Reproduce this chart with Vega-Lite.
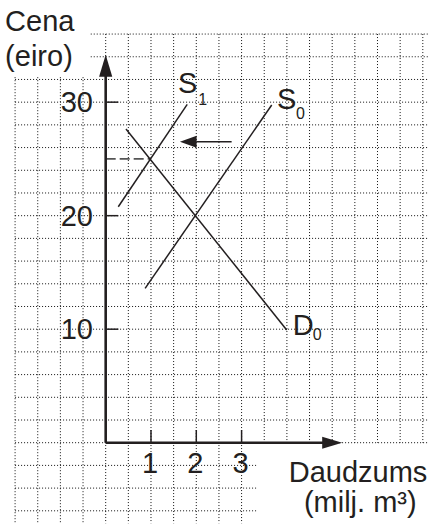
{
  "$schema": "https://vega.github.io/schema/vega-lite/v6.json",
  "autosize": {"type": "fit", "contains": "padding"},
  "width": 430,
  "height": 525,
  "padding": 0,
  "background": "white",
  "config": {"view": {"stroke": null}, "text": {"font": "Liberation Sans", "color": "#231f20"}},
  "datasets": {
    "hgrid": [
      {"y": 36, "x0": -0.33, "x1": 7.12}, {"y": 34, "x0": -0.33, "x1": 7.12},
      {"y": 32, "x0": -2, "x1": 7.12}, {"y": 30, "x0": -2, "x1": 7.12},
      {"y": 28, "x0": -2, "x1": 7.12}, {"y": 26, "x0": -2, "x1": 7.12},
      {"y": 24, "x0": -2, "x1": 7.12}, {"y": 22, "x0": -2, "x1": 7.12},
      {"y": 20, "x0": -2, "x1": 7.12}, {"y": 18, "x0": -2, "x1": 7.12},
      {"y": 16, "x0": -2, "x1": 7.12}, {"y": 14, "x0": -2, "x1": 7.12},
      {"y": 12, "x0": -2, "x1": 7.12}, {"y": 10, "x0": -2, "x1": 7.12},
      {"y": 8, "x0": -2, "x1": 7.12}, {"y": 6, "x0": -2, "x1": 7.12},
      {"y": 4, "x0": -2, "x1": 7.12}, {"y": 2, "x0": -2, "x1": 7.12},
      {"y": 0, "x0": -2, "x1": 7.12},
      {"y": -2, "x0": -2, "x1": 3.36}, {"y": -4, "x0": -2, "x1": 3.36},
      {"y": -6, "x0": -2, "x1": 3.36}
    ],
    "vgrid": [
      {"x": -2, "y0": 32.2, "y1": -7.1}, {"x": -1.5, "y0": 32.2, "y1": -7.1},
      {"x": -1, "y0": 32.2, "y1": -7.1}, {"x": -0.5, "y0": 32.2, "y1": -7.1},
      {"x": 0, "y0": 36, "y1": -7.1}, {"x": 0.5, "y0": 36, "y1": -7.1},
      {"x": 1, "y0": 36, "y1": -7.1}, {"x": 1.5, "y0": 36, "y1": -7.1},
      {"x": 2, "y0": 36, "y1": -7.1}, {"x": 2.5, "y0": 36, "y1": -7.1},
      {"x": 3, "y0": 36, "y1": -7.1},
      {"x": 3.5, "y0": 36, "y1": 0}, {"x": 4, "y0": 36, "y1": 0},
      {"x": 4.5, "y0": 36, "y1": 0}, {"x": 5, "y0": 36, "y1": 0},
      {"x": 5.5, "y0": 36, "y1": 0}, {"x": 6, "y0": 36, "y1": 0},
      {"x": 6.5, "y0": 36, "y1": 0}, {"x": 7, "y0": 36, "y1": 0}
    ],
    "curves": [
      {"curve": "S1", "q": 0.278, "p": 20.79}, {"curve": "S1", "q": 1.80, "p": 29.81},
      {"curve": "S0", "q": 0.87, "p": 13.6}, {"curve": "S0", "q": 3.665, "p": 29.75},
      {"curve": "D0", "q": 0.448, "p": 27.64}, {"curve": "D0", "q": 3.996, "p": 9.93}
    ],
    "axes": [
      {"x": 0, "y": 0, "x2": 0, "y2": 33.2},
      {"x": 0, "y": 0, "x2": 5.0, "y2": 0}
    ],
    "yticks": [{"v": 10, "label": "10"}, {"v": 20, "label": "20"}, {"v": 30, "label": "30"}],
    "xticks": [{"v": 1, "label": "1"}, {"v": 2, "label": "2"}, {"v": 3, "label": "3"}],
    "mainLabels": [
      {"t": "S", "x": 1.594, "y": 30.78},
      {"t": "S", "x": 3.78, "y": 29.37},
      {"t": "D", "x": 4.13, "y": 9.49}
    ],
    "subLabels": [
      {"t": "1", "x": 2.046, "y": 29.77},
      {"t": "0", "x": 4.2, "y": 28.49},
      {"t": "0", "x": 4.57, "y": 9.05}
    ],
    "ytitle": [
      {"t": "Cena", "x": -2.22, "y": 36.27},
      {"t": "(eiro)", "x": -2.22, "y": 33.19}
    ],
    "xtitle": [
      {"t": "Daudzums", "x": 5.57, "y": -3.44},
      {"t": "(milj. m³)", "x": 5.62, "y": -6.13}
    ]
  },
  "encoding": {
    "x": {"type": "quantitative", "scale": {"domain": [-2.333, 7.159], "nice": false, "zero": false}, "axis": null},
    "y": {"type": "quantitative", "scale": {"domain": [-7.25, 39.0], "nice": false, "zero": false}, "axis": null}
  },
  "layer": [
    {
      "data": {"name": "hgrid"},
      "mark": {"type": "rule", "color": "#111111", "strokeWidth": 1, "strokeDash": [1, 2]},
      "encoding": {"y": {"field": "y", "type": "quantitative"}, "x": {"field": "x0", "type": "quantitative"}, "x2": {"field": "x1"}}
    },
    {
      "data": {"name": "vgrid"},
      "mark": {"type": "rule", "color": "#111111", "strokeWidth": 1, "strokeDash": [1, 2]},
      "encoding": {"x": {"field": "x", "type": "quantitative"}, "y": {"field": "y0", "type": "quantitative"}, "y2": {"field": "y1"}}
    },
    {
      "data": {"values": [{"x0": 0, "x1": 1, "p": 25}]},
      "mark": {"type": "rule", "color": "#555555", "strokeWidth": 1.6, "strokeDash": [10, 4]},
      "encoding": {"y": {"field": "p", "type": "quantitative"}, "x": {"field": "x0", "type": "quantitative"}, "x2": {"field": "x1"}}
    },
    {
      "data": {"name": "curves"},
      "mark": {"type": "line", "color": "#231f20", "strokeWidth": 1.5},
      "encoding": {"x": {"field": "q", "type": "quantitative"}, "y": {"field": "p", "type": "quantitative"}, "detail": {"field": "curve"}}
    },
    {
      "data": {"name": "axes"},
      "mark": {"type": "rule", "color": "#231f20", "strokeWidth": 2.6},
      "encoding": {"x": {"field": "x", "type": "quantitative"}, "y": {"field": "y", "type": "quantitative"}, "x2": {"field": "x2"}, "y2": {"field": "y2"}}
    },
    {
      "data": {"name": "yticks"},
      "mark": {"type": "rule", "color": "#231f20", "strokeWidth": 1.5},
      "encoding": {"y": {"field": "v", "type": "quantitative"}, "x": {"datum": 0}, "x2": {"datum": 0.28}}
    },
    {
      "data": {"name": "xticks"},
      "mark": {"type": "rule", "color": "#231f20", "strokeWidth": 1.5},
      "encoding": {"x": {"field": "v", "type": "quantitative"}, "y": {"datum": 0}, "y2": {"datum": 1.12}}
    },
    {
      "data": {"values": [{"x": 0, "y": 33.2}]},
      "mark": {"type": "point", "filled": true, "color": "#231f20", "opacity": 1, "size": 484, "shape": "M0,-1L0.6,1L-0.6,1Z"},
      "encoding": {"x": {"field": "x", "type": "quantitative"}, "y": {"field": "y", "type": "quantitative"}}
    },
    {
      "data": {"values": [{"x": 5.0, "y": 0}]},
      "mark": {"type": "point", "filled": true, "color": "#231f20", "opacity": 1, "size": 400, "shape": "M1,0L-1,0.6L-1,-0.6Z"},
      "encoding": {"x": {"field": "x", "type": "quantitative"}, "y": {"field": "y", "type": "quantitative"}}
    },
    {
      "data": {"values": [{"x0": 2.0, "x1": 2.78, "p": 26.52}]},
      "mark": {"type": "rule", "color": "#231f20", "strokeWidth": 1.5},
      "encoding": {"y": {"field": "p", "type": "quantitative"}, "x": {"field": "x0", "type": "quantitative"}, "x2": {"field": "x1"}}
    },
    {
      "data": {"values": [{"x": 1.823, "y": 26.52}]},
      "mark": {"type": "point", "filled": true, "color": "#231f20", "opacity": 1, "size": 279, "shape": "M-1,0L1,-0.72L1,0.72Z"},
      "encoding": {"x": {"field": "x", "type": "quantitative"}, "y": {"field": "y", "type": "quantitative"}}
    },
    {
      "data": {"name": "yticks"},
      "mark": {"type": "text", "fontSize": 29, "align": "right", "baseline": "alphabetic", "dy": 10},
      "encoding": {"y": {"field": "v", "type": "quantitative"}, "x": {"datum": -0.28}, "text": {"field": "label"}}
    },
    {
      "data": {"name": "xticks"},
      "mark": {"type": "text", "fontSize": 29, "align": "center", "baseline": "alphabetic", "dx": -1},
      "encoding": {"x": {"field": "v", "type": "quantitative"}, "y": {"datum": -2.64}, "text": {"field": "label"}}
    },
    {
      "data": {"name": "mainLabels"},
      "mark": {"type": "text", "fontSize": 29, "align": "left", "baseline": "alphabetic"},
      "encoding": {"x": {"field": "x", "type": "quantitative"}, "y": {"field": "y", "type": "quantitative"}, "text": {"field": "t"}}
    },
    {
      "data": {"name": "subLabels"},
      "mark": {"type": "text", "fontSize": 16, "align": "left", "baseline": "alphabetic"},
      "encoding": {"x": {"field": "x", "type": "quantitative"}, "y": {"field": "y", "type": "quantitative"}, "text": {"field": "t"}}
    },
    {
      "data": {"name": "ytitle"},
      "mark": {"type": "text", "fontSize": 29, "align": "left", "baseline": "alphabetic"},
      "encoding": {"x": {"field": "x", "type": "quantitative"}, "y": {"field": "y", "type": "quantitative"}, "text": {"field": "t"}}
    },
    {
      "data": {"name": "xtitle"},
      "mark": {"type": "text", "fontSize": 29, "align": "center", "baseline": "alphabetic"},
      "encoding": {"x": {"field": "x", "type": "quantitative"}, "y": {"field": "y", "type": "quantitative"}, "text": {"field": "t"}}
    }
  ]
}
